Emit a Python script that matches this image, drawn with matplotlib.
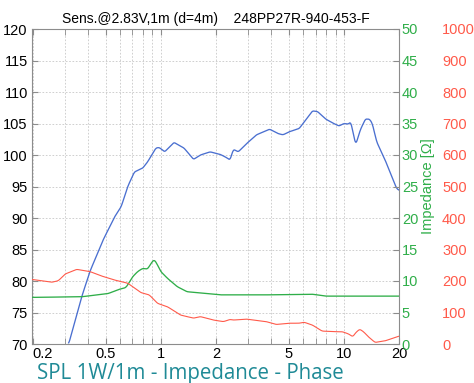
"""
SPL / impedance / phase chart for 248PP27R
"""
import numpy as np
import matplotlib
matplotlib.use('Agg')
import matplotlib.pyplot as plt
from matplotlib.ticker import FixedLocator

plt.rcParams['font.family'] = ['Liberation Sans', 'DejaVu Sans']

# frequency in kHz, SPL in dB
spl_f = [0.314, 0.37, 0.41, 0.484, 0.56, 0.608, 0.66, 0.717, 0.796, 0.847, 0.94,
         0.98, 1.05, 1.18, 1.34, 1.51, 1.645, 1.86, 2.11, 2.25, 2.39, 2.49, 2.65,
         2.94, 3.33, 3.93, 4.37, 4.65, 5.04, 5.7, 6.2, 6.74, 7.18, 7.96, 8.66,
         9.4, 10.0, 10.6, 10.9, 11.6, 12.3, 13.1, 13.8, 14.3, 15.1, 16.8, 19.4, 20.0]
spl_db = [70.0, 77.5, 81.5, 86.5, 90.2, 91.8, 95.0, 97.3, 97.9, 98.9, 101.1,
          101.2, 100.5, 102.0, 101.1, 99.3, 100.0, 100.5, 100.1, 99.7, 99.2, 100.9, 100.5,
          101.8, 103.2, 104.1, 103.4, 103.2, 103.7, 104.2, 105.6, 107.0, 106.9, 105.7, 105.1,
          104.6, 105.0, 104.9, 105.3, 101.6, 104.0, 105.7, 105.7, 105.0, 102.1, 99.2, 94.7, 94.4]

# impedance in ohm
imp_f = [0.198, 0.37, 0.515, 0.595, 0.62, 0.647, 0.703, 0.748, 0.796, 0.847, 0.89,
         0.92, 0.95, 1.0, 1.09, 1.23, 1.39, 1.645, 2.11, 3.77, 6.74, 7.96, 13.1, 20.0]
imp_ohm = [7.4, 7.5, 8.0, 8.7, 8.8, 9.0, 10.7, 11.5, 12.0, 11.9, 12.9,
           13.4, 12.8, 11.5, 10.4, 9.1, 8.3, 8.1, 7.8, 7.8, 7.9, 7.6, 7.6, 7.6]

# phase in degrees
ph_f = [0.198, 0.254, 0.276, 0.3, 0.347, 0.41, 0.474, 0.56, 0.66, 0.78, 0.865,
        0.96, 1.09, 1.28, 1.51, 1.645, 1.94, 2.2, 2.39, 2.49, 2.94, 3.77, 4.27,
        5.04, 5.7, 6.07, 6.74, 7.6, 8.97, 9.8, 10.6, 11.2, 11.6, 12.2, 12.8,
        13.6, 14.8, 16.8, 20.0]
ph_deg = [205, 196, 201, 222, 237, 230, 216, 203, 193, 163, 156,
          129, 118, 92, 82, 87, 76, 71, 78, 76, 79, 71, 62,
          66, 66, 69, 60, 41, 39, 39, 32, 23, 36, 47, 39,
          23, 5, 10, 25]

x_ticks = [0.2, 0.5, 1, 2, 5, 10, 20]
x_labels = ['0.2', '0.5', '1', '2', '5', '10', '20']
x_minor = [0.3, 0.4, 0.6, 0.7, 0.8, 0.9, 3, 4, 6, 7, 8, 9]


def smooth_line(fx, fy, n=600, win=5):
    """resample on a log axis and soften the corners a bit"""
    lx = np.log10(fx)
    xs = np.linspace(lx[0], lx[-1], n)
    ys = np.interp(xs, lx, fy)
    pad = win // 2
    yp = np.concatenate([np.full(pad, ys[0]), ys, np.full(pad, ys[-1])])
    ys = np.convolve(yp, np.ones(win) / win, mode='valid')
    return 10 ** xs, ys


blue = '#4a6fd0'
green = '#2fae49'
red = '#ff5a4a'
grey = '#8c8c8c'

fig = plt.figure(figsize=(4.74, 3.83), dpi=100)
ax = fig.add_axes([32 / 474, 1 - 344 / 383, 367 / 474, 315 / 383])
ax2 = ax.twinx()
ax3 = ax.twinx()

ax.plot(*smooth_line(spl_f, spl_db), color=blue, lw=0.95, zorder=3)
ax2.plot(*smooth_line(imp_f, imp_ohm), color=green, lw=0.95)
ax3.plot(*smooth_line(ph_f, ph_deg), color=red, lw=0.8)

ax.set_xscale('log')
ax.set_xlim(0.198, 20)
ax.set_ylim(70, 120)
ax2.set_ylim(0, 50)
ax3.set_ylim(0, 1000)

ax.xaxis.set_major_locator(FixedLocator(x_ticks))
ax.set_xticklabels(x_labels)
ax.get_xticklabels()[0].set_ha('left')
ax.xaxis.set_minor_locator(FixedLocator(x_minor))
ax.xaxis.set_minor_formatter(plt.NullFormatter())
ax.set_yticks(np.arange(70, 121, 5))
ax2.set_yticks(np.arange(0, 51, 5))
ax3.set_yticks(np.arange(0, 1001, 100))

ax.grid(True, which='both', axis='x', color='#c8c8c8', ls=(0, (2, 2)), lw=0.6)
ax.grid(True, which='major', axis='y', color='#c8c8c8', ls=(0, (2, 2)), lw=0.6)

ax.tick_params(axis='both', which='both', direction='in', top=True, length=4,
               color=grey, labelsize=10.5, pad=3)
ax.tick_params(axis='x', which='major', pad=2)
ax.tick_params(axis='y', which='both', right=False)
ax2.tick_params(axis='y', direction='in', length=4, color=grey,
                labelcolor=green, labelsize=10.5, pad=2)
ax3.tick_params(axis='y', length=0, labelcolor=red, labelsize=10.5, pad=31)

for s in ax.spines.values():
    s.set_color(grey)
for a in (ax2, ax3):
    for s in a.spines.values():
        s.set_visible(False)

ax2.set_ylabel('Impedance [\u03a9]', color=green, fontsize=10.5, labelpad=2)
ax3.set_ylabel('Phase [\u00b0]', color=red, fontsize=10.5, labelpad=6)

ax.set_title('Sens.@2.83V,1m (d=4m)    248PP27R-940-453-F', fontsize=10, pad=4)
fig.text(37 / 474, 1 - 374 / 383, 'SPL 1W/1m - Impedance - Phase', color='#1f8a96',
         fontsize=14.8, va='center', ha='left', family=['Open Sans', 'DejaVu Sans'])

fig.savefig('out.png', dpi=100)
